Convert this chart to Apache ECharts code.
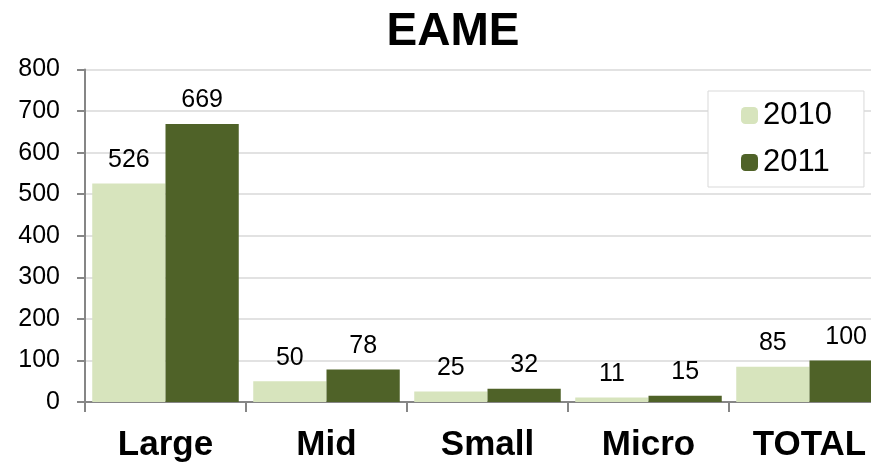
<!DOCTYPE html>
<html>
<head>
<meta charset="utf-8">
<script src="https://cdn.jsdelivr.net/npm/echarts@6/dist/echarts.min.js"></script>
<style>
  html, body { margin: 0; padding: 0; background: #ffffff; }
  #chart { width: 871px; height: 466px; }
</style>
</head>
<body>
<div id="chart"></div>
<script>
// Segment sizes for EAME, 2010 vs 2011
const categories = ['Large', 'Mid', 'Small', 'Micro', 'TOTAL'];
const values2010 = [526, 50, 25, 11, 85];
const values2011 = [669, 78, 32, 15, 100];
const seriesNames = ['2010', '2011'];

const FONT = '"Liberation Sans", Arial, sans-serif';
const LIGHT = '#d7e4bd';
const DARK = '#4f6228';

const chart = echarts.init(document.getElementById('chart'), null, { renderer: 'canvas' });

const labelStyle = {
  show: true,
  position: 'top',
  distance: 11,
  color: '#000',
  fontSize: 25,
  fontFamily: FONT
};

chart.setOption({
  animation: false,
  backgroundColor: '#ffffff',
  title: {
    text: 'EAME',
    left: 448,
    top: 4,
    textAlign: 'center',
    textStyle: { fontSize: 46, fontWeight: 'bold', color: '#000', fontFamily: FONT }
  },
  legend: {
    orient: 'vertical',
    left: 708,
    top: 91,
    padding: [9, 32, 9, 33],
    itemGap: 16,
    itemWidth: 17,
    itemHeight: 17,
    itemStyle: { borderWidth: 0 },
    borderColor: '#d9d9d9',
    borderWidth: 1,
    backgroundColor: '#ffffff',
    textStyle: { fontSize: 31, color: '#000', fontFamily: FONT },
    data: seriesNames
  },
  grid: {
    left: 85,
    top: 69.5,
    width: 805,
    bottom: 64,
    containLabel: false,
    outerBoundsMode: 'none'
  },
  xAxis: {
    type: 'category',
    data: categories,
    axisLine: { lineStyle: { color: '#868686', width: 2 } },
    axisTick: { show: true, length: 10, alignWithLabel: false, lineStyle: { color: '#868686', width: 2 } },
    axisLabel: {
      margin: 26,
      color: '#000',
      fontSize: 35,
      fontWeight: 'bold',
      fontFamily: FONT
    }
  },
  yAxis: {
    type: 'value',
    min: 0,
    max: 800,
    interval: 100,
    axisLine: { show: true, lineStyle: { color: '#868686', width: 2 } },
    axisTick: { show: true, length: 8, lineStyle: { color: '#868686', width: 2 } },
    splitLine: { show: true, lineStyle: { color: '#d9d9d9', width: 1.5 } },
    axisLabel: {
      margin: 25,
      color: '#000',
      fontSize: 25,
      fontFamily: FONT
    }
  },
  series: [
    {
      name: seriesNames[0],
      type: 'bar',
      data: values2010,
      barGap: '0%',
      barCategoryGap: '9%',
      itemStyle: { color: LIGHT },
      label: labelStyle
    },
    {
      name: seriesNames[1],
      type: 'bar',
      data: values2011,
      barGap: '0%',
      barCategoryGap: '9%',
      itemStyle: { color: DARK },
      label: labelStyle
    }
  ]
});
</script>
</body>
</html>
